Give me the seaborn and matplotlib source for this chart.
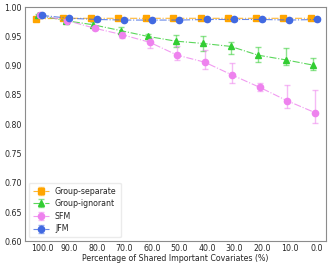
import numpy as np
import matplotlib
matplotlib.use("Agg")
import matplotlib.pyplot as plt
from matplotlib.colors import to_rgba
import seaborn as sns

# x categories (percentage of shared important covariates)
pct_labels = ["100.0", "90.0", "80.0", "70.0", "60.0", "50.0", "40.0", "30.0", "20.0", "10.0", "0.0"]

# mean accuracy per method
group_separate = [0.980, 0.981, 0.981, 0.981, 0.981, 0.981, 0.981, 0.981, 0.981, 0.981, 0.981]
group_ignorant = [0.986, 0.977, 0.970, 0.960, 0.950, 0.942, 0.938, 0.933, 0.918, 0.910, 0.901]
sfm = [0.986, 0.977, 0.964, 0.953, 0.940, 0.918, 0.906, 0.884, 0.863, 0.840, 0.820]
jfm = [0.986, 0.981, 0.979, 0.978, 0.978, 0.978, 0.979, 0.979, 0.979, 0.978, 0.979]

# lower / upper ends of error bars
gs_lo = [0.978, 0.979, 0.979, 0.979, 0.979, 0.979, 0.979, 0.979, 0.979, 0.979, 0.979]
gs_hi = [0.982, 0.983, 0.983, 0.983, 0.983, 0.983, 0.983, 0.983, 0.983, 0.983, 0.983]
gi_lo = [0.984, 0.975, 0.966, 0.954, 0.946, 0.932, 0.925, 0.920, 0.907, 0.901, 0.892]
gi_hi = [0.988, 0.979, 0.974, 0.966, 0.955, 0.953, 0.950, 0.940, 0.932, 0.930, 0.913]
sfm_lo = [0.984, 0.975, 0.961, 0.948, 0.931, 0.910, 0.894, 0.871, 0.857, 0.827, 0.802]
sfm_hi = [0.988, 0.979, 0.967, 0.957, 0.947, 0.933, 0.927, 0.905, 0.871, 0.867, 0.859]
jfm_lo = [0.984, 0.979, 0.977, 0.976, 0.976, 0.976, 0.977, 0.977, 0.977, 0.976, 0.977]
jfm_hi = [0.988, 0.983, 0.981, 0.980, 0.980, 0.980, 0.981, 0.981, 0.981, 0.980, 0.981]

sns.set_style("white")
plt.rcParams["font.family"] = ["DejaVu Sans"]

fig = plt.figure(figsize=(3.32, 2.66), dpi=100)
ax = fig.add_axes([0.075, 0.093, 0.907, 0.88])

x = np.arange(len(pct_labels))
series = [
    ("Group-separate", group_separate, gs_lo, gs_hi, "orange", "s", -0.22),
    ("Group-ignorant", group_ignorant, gi_lo, gi_hi, "limegreen", "^", -0.14),
    ("SFM", sfm, sfm_lo, sfm_hi, "violet", "o", -0.08),
    ("JFM", jfm, jfm_lo, jfm_hi, "royalblue", "o", 0.0),
]
for name, mean, lo, hi, col, mk, off in series:
    mean = np.array(mean)
    yerr = [mean - np.array(lo), np.array(hi) - mean]
    ax.errorbar(x + off, mean, yerr=yerr, fmt=mk, linestyle="-.",
                color=to_rgba(col, 0.8), mfc=col, mec=col,
                markersize=4.5, linewidth=0.8, elinewidth=1.0, capsize=2,
                ecolor=to_rgba(col, 0.55), label=name)

ax.set_xticks(x)
ax.set_xticklabels(pct_labels)
ax.set_xlim(-0.62, 10.33)
ax.set_ylim(0.60, 1.00)
ax.set_yticks(np.arange(0.60, 1.001, 0.05))
ax.yaxis.set_major_formatter(matplotlib.ticker.FormatStrFormatter("%.2f"))
ax.tick_params(labelsize=5.7, length=0, pad=2)
ax.set_xlabel("Percentage of Shared Important Covariates (%)", fontsize=5.7, labelpad=1)
for s in ax.spines.values():
    s.set_color("0.55")
    s.set_linewidth(0.8)

ax.legend(loc="lower left", fontsize=5.7, frameon=True, borderpad=0.5,
          handlelength=2.0, labelspacing=0.45, edgecolor="0.9")

fig.savefig("out.png", dpi=100)
